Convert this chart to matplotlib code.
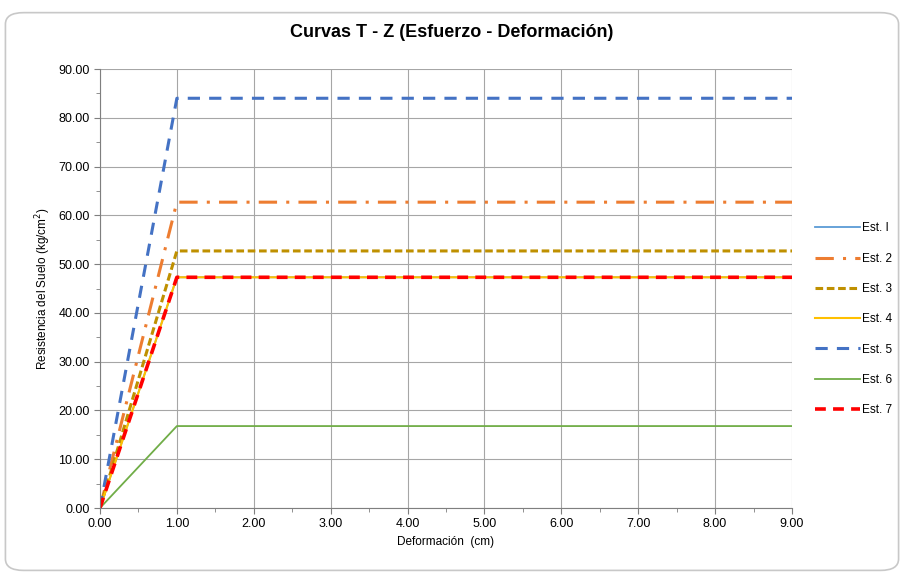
import matplotlib
matplotlib.use("Agg")
import matplotlib.pyplot as plt
from matplotlib.patches import FancyBboxPatch
from matplotlib.ticker import MultipleLocator, FormatStrFormatter

plt.rcParams['font.family'] = ['Liberation Sans', 'DejaVu Sans']

# deformation (cm) and resistance values (kg/cm2)
x = [0.0, 1.0, 9.0]
labels = ["Est. I", "Est. 2", "Est. 3", "Est. 4", "Est. 5", "Est. 6", "Est. 7"]
peaks = [47.3, 62.7, 52.7, 47.3, 84.0, 16.8, 47.3]
colors = ["#5B9BD5", "#ED7D31", "#BF9000", "#FFC000", "#4472C4", "#70AD47", "#FF0000"]
styles = ["-", (0, (6, 3, 1, 3)), (0, (2.5, 1.2)), "-", (0, (4, 3)), "-", (0, (3, 2))]
widths = [1.3, 2.2, 2.2, 1.5, 2.2, 1.3, 2.6]

fig = plt.figure(figsize=(9.04, 5.75), dpi=100)
border = FancyBboxPatch((0.006, 0.008), 0.988, 0.97, boxstyle="round,pad=0,rounding_size=0.02",
                        transform=fig.transFigure, facecolor="white", edgecolor="#c8c8c8",
                        linewidth=1.2, zorder=-10)
fig.patches.append(border)

ax = fig.add_axes([0.1106, 0.1165, 0.7655, 0.7635])
for lab, p, c, s, w in zip(labels, peaks, colors, styles, widths):
    ax.plot(x, [0.0, p, p], color=c, linestyle=s, linewidth=w, label=lab)

ax.set_xlim(0, 9)
ax.set_ylim(0, 90)
ax.xaxis.set_major_locator(MultipleLocator(1))
ax.xaxis.set_minor_locator(MultipleLocator(0.5))
ax.yaxis.set_major_locator(MultipleLocator(10))
ax.yaxis.set_minor_locator(MultipleLocator(5))
ax.xaxis.set_major_formatter(FormatStrFormatter("%.2f"))
ax.yaxis.set_major_formatter(FormatStrFormatter("%.2f"))
ax.grid(True, which="major", color="#a6a6a6", linewidth=0.8)
ax.set_axisbelow(True)
for side in ["top", "right"]:
    ax.spines[side].set_visible(False)
for side in ["left", "bottom"]:
    ax.spines[side].set_color("#7f7f7f")
ax.tick_params(which="both", direction="out", colors="#7f7f7f", labelcolor="black", labelsize=9)
ax.tick_params(which="major", length=4)
ax.tick_params(which="minor", length=3)

ax.set_xlabel("Deformación  (cm)", fontsize=8.5)
ax.set_ylabel("Resistencia del Suelo (kg/cm$^2$)", fontsize=8.5)
fig.suptitle("Curvas T - Z (Esfuerzo - Deformación)", x=0.5, y=0.958, fontsize=13, fontweight="bold")

ax.legend(loc="center left", bbox_to_anchor=(1.026, 0.43), frameon=False, fontsize=8.5,
          handlelength=3.8, handletextpad=0.2, labelspacing=1.55, borderaxespad=0)

fig.savefig("out.png", dpi=100)
